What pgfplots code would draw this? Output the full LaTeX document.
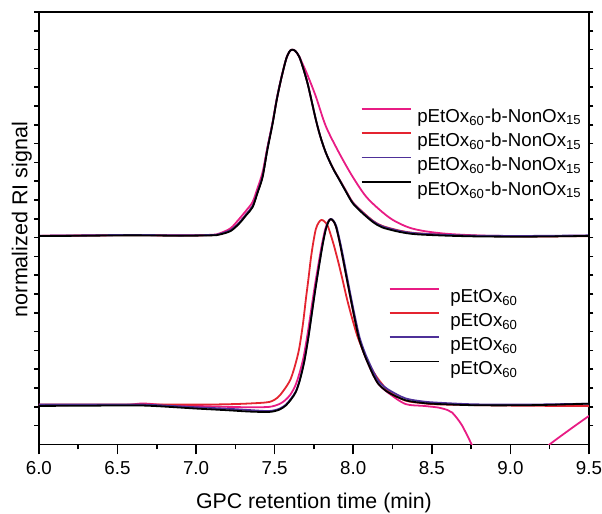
\documentclass[border=0pt]{standalone}
\usepackage{fontspec}
\setmainfont{Liberation Sans}
\usepackage{pgfplots}
\pgfplotsset{compat=1.18}

\definecolor{cpink}{RGB}{232,28,132}
\definecolor{cred}{RGB}{228,36,48}
\definecolor{cblue}{RGB}{78,48,152}

\pgfplotsset{
  gpcbase/.style={
    width=276pt, height=217pt, scale only axis,
    xmin=6, xmax=9.5, ymin=0, ymax=2.3,
    clip=true,
    axis line style={line width=0.9pt},
    tick align=outside,
    every tick/.append style={black, line width=0.8pt},
  },
  gpclegend/.style={
    legend cell align=left,
    legend style={draw=none, fill=none, inner sep=0pt, outer sep=0pt,
      font=\fontsize{9.4}{11}\selectfont, row sep=3.6pt,
      nodes={inner ysep=0pt}},
    legend image code/.code={\draw[##1, line width=0.9pt] (0pt,4pt) -- (25pt,4pt);},
  },
  curve/.style={line width=0.9pt, smooth, #1},
}

\begin{document}
\begin{tikzpicture}
% upper set (block copolymers), x ticks and labels
\begin{axis}[
    gpcbase, gpclegend,
    xtick pos=left,
    xtick={6,6.5,...,9.5},
    minor xtick={6.25,6.75,...,9.25},
    ytick=\empty,
    major tick length=5pt, minor tick length=2.5pt,
    /pgf/number format/assume math mode=true,
    xticklabel style={font=\fontsize{9.4}{11}\selectfont, inner xsep=0pt,
      /pgf/number format/fixed, /pgf/number format/fixed zerofill,
      /pgf/number format/precision=1},
    xlabel={GPC retention time (min)},
    ylabel={normalized RI signal},
    xlabel style={font=\fontsize{10.7}{12}\selectfont, inner sep=0pt,
      at={(axis description cs:0.5,-0.136)}, anchor=center},
    ylabel style={font=\fontsize{10.8}{12}\selectfont, inner sep=0pt,
      at={(axis description cs:-0.0308,0.52)}, anchor=center},
    legend style={at={(axis description cs:0.585,0.778)}, anchor=north west,
      nodes={inner xsep=2.5pt}},
]
\addplot[curve=cpink] coordinates {
(6.0,1.110)(6.3,1.112)(6.6,1.114)(6.9,1.112)(7.1,1.115)(7.148,1.122)(7.22,1.15)
(7.275,1.20)(7.32,1.245)(7.36,1.29)(7.39,1.36)(7.423,1.447)(7.453,1.575)
(7.487,1.712)(7.513,1.834)(7.540,1.940)(7.572,2.046)(7.593,2.088)(7.610,2.099)
(7.631,2.093)(7.656,2.063)(7.68,2.02)(7.709,1.965)(7.762,1.851)(7.826,1.692)
(7.910,1.551)(7.994,1.427)(8.079,1.321)(8.164,1.251)(8.25,1.195)(8.35,1.155)
(8.45,1.135)(8.6,1.12)(8.817,1.111)(9.1,1.108)(9.5,1.110)};
\addlegendentry{pEtOx\textsubscript{60}-b-NonOx\textsubscript{15}}
\addplot[curve=cred] coordinates {
(6.0,1.109)(6.3,1.111)(6.6,1.113)(6.9,1.111)(7.1,1.113)(7.148,1.118)(7.22,1.14)
(7.275,1.18)(7.32,1.225)(7.36,1.268)(7.39,1.34)(7.423,1.427)(7.453,1.569)
(7.487,1.710)(7.513,1.834)(7.540,1.940)(7.572,2.046)(7.593,2.088)(7.610,2.099)
(7.631,2.093)(7.656,2.063)(7.681,2.003)(7.709,1.922)(7.735,1.828)(7.762,1.728)
(7.79,1.64)(7.826,1.551)(7.87,1.472)(7.910,1.413)(7.95,1.355)(7.994,1.292)
(8.04,1.252)(8.079,1.222)(8.13,1.187)(8.185,1.162)(8.291,1.138)(8.397,1.124)
(8.608,1.114)(8.817,1.109)(9.116,1.106)(9.5,1.108)};
\addlegendentry{pEtOx\textsubscript{60}-b-NonOx\textsubscript{15}}
\addplot[curve=cblue] coordinates {
(6.0,1.110)(6.3,1.112)(6.6,1.114)(6.9,1.112)(7.1,1.114)(7.148,1.119)(7.22,1.14)
(7.275,1.18)(7.32,1.225)(7.36,1.268)(7.39,1.34)(7.423,1.427)(7.453,1.569)
(7.487,1.710)(7.513,1.834)(7.540,1.940)(7.572,2.046)(7.593,2.088)(7.610,2.099)
(7.631,2.093)(7.656,2.063)(7.681,2.003)(7.709,1.922)(7.735,1.828)(7.762,1.728)
(7.79,1.64)(7.826,1.551)(7.87,1.470)(7.910,1.411)(7.95,1.352)(7.994,1.289)
(8.04,1.249)(8.079,1.219)(8.13,1.185)(8.185,1.160)(8.291,1.136)(8.397,1.123)
(8.608,1.114)(8.817,1.110)(9.116,1.109)(9.5,1.112)};
\addlegendentry{pEtOx\textsubscript{60}-b-NonOx\textsubscript{15}}
\addplot[curve=black] coordinates {
(6.0,1.108)(6.3,1.110)(6.6,1.112)(6.9,1.110)(7.1,1.112)(7.148,1.116)(7.22,1.135)
(7.275,1.175)(7.32,1.22)(7.36,1.262)(7.39,1.335)(7.423,1.42)(7.453,1.562)
(7.487,1.705)(7.513,1.830)(7.540,1.938)(7.572,2.046)(7.593,2.088)(7.610,2.099)
(7.631,2.093)(7.656,2.063)(7.681,2.003)(7.709,1.922)(7.735,1.828)(7.762,1.728)
(7.79,1.64)(7.826,1.551)(7.87,1.470)(7.910,1.410)(7.95,1.35)(7.994,1.286)
(8.04,1.245)(8.079,1.215)(8.13,1.18)(8.185,1.154)(8.291,1.131)(8.397,1.118)
(8.608,1.110)(8.817,1.106)(9.116,1.105)(9.5,1.109)};
\addlegendentry{pEtOx\textsubscript{60}-b-NonOx\textsubscript{15}}
\end{axis}

% lower set (homopolymers), short y ticks on both sides
\begin{axis}[
    gpcbase, gpclegend,
    xtick=\empty,
    ytick pos=both,
    ytick={0.1,0.2,...,2.25},
    yticklabels={},
    major tick length=2.2pt,
    legend style={at={(axis description cs:0.636,0.361)}, anchor=north west,
      nodes={inner xsep=5pt}},
]
\addplot[curve=cpink] coordinates {
(6.0,0.208)(6.3,0.210)(6.55,0.210)(6.66,0.218)(6.8,0.210)(7.0,0.205)(7.2,0.200)
(7.34,0.198)(7.466,0.200)(7.53,0.215)(7.567,0.235)(7.6,0.265)(7.63,0.31)
(7.655,0.37)(7.683,0.46)(7.71,0.59)(7.736,0.735)(7.757,0.85)(7.778,0.955)
(7.8,1.06)(7.822,1.145)(7.84,1.185)(7.855,1.198)(7.871,1.19)(7.889,1.162)
(7.91,1.09)(7.931,1.003)(7.957,0.89)(7.984,0.774)(8.01,0.665)(8.037,0.562)
(8.07,0.48)(8.100,0.420)(8.13,0.365)(8.164,0.318)(8.227,0.272)(8.333,0.215)
(8.45,0.205)(8.544,0.196)(8.6,0.183)(8.629,0.170)(8.66,0.14)(8.692,0.102)
(8.735,0.032)(8.76,-0.011)(8.8,-0.08)(8.85,-0.15)(8.9,-0.19)(8.95,-0.21)
(9.0,-0.21)(9.05,-0.19)(9.1,-0.14)(9.15,-0.085)(9.232,-0.012)(9.369,0.074)
(9.5,0.152)};
\addlegendentry{pEtOx\textsubscript{60}}
\addplot[curve=cred] coordinates {
(6.0,0.212)(6.5,0.213)(7.0,0.212)(7.2,0.214)(7.34,0.218)(7.466,0.226)
(7.52,0.25)(7.550,0.279)(7.58,0.315)(7.603,0.350)(7.63,0.42)(7.656,0.509)
(7.68,0.64)(7.699,0.774)(7.715,0.88)(7.730,0.986)(7.745,1.07)(7.762,1.145)
(7.78,1.18)(7.798,1.194)(7.815,1.187)(7.836,1.166)(7.855,1.12)(7.878,1.056)
(7.905,0.97)(7.931,0.880)(7.96,0.775)(7.994,0.668)(8.025,0.58)(8.058,0.509)
(8.1,0.43)(8.143,0.367)(8.185,0.32)(8.227,0.281)(8.333,0.233)(8.45,0.219)
(8.544,0.213)(8.968,0.207)(9.5,0.204)};
\addlegendentry{pEtOx\textsubscript{60}}
\addplot[curve=cblue] coordinates {
(6.0,0.212)(6.3,0.212)(6.66,0.212)(7.0,0.198)(7.2,0.190)(7.34,0.183)
(7.466,0.178)(7.53,0.190)(7.572,0.212)(7.605,0.245)(7.635,0.283)(7.66,0.345)
(7.688,0.442)(7.715,0.575)(7.741,0.725)(7.762,0.845)(7.783,0.955)(7.805,1.064)
(7.826,1.148)(7.843,1.187)(7.857,1.199)(7.874,1.19)(7.892,1.162)(7.913,1.09)
(7.935,1.003)(7.961,0.89)(7.988,0.774)(8.014,0.668)(8.041,0.568)(8.074,0.488)
(8.104,0.43)(8.134,0.377)(8.168,0.33)(8.227,0.29)(8.333,0.245)(8.45,0.228)
(8.544,0.222)(8.75,0.214)(8.968,0.212)(9.2,0.213)(9.5,0.217)};
\addlegendentry{pEtOx\textsubscript{60}}
\addplot[curve=black] coordinates {
(6.0,0.205)(6.3,0.206)(6.66,0.207)(7.0,0.191)(7.2,0.182)(7.34,0.175)
(7.466,0.173)(7.53,0.185)(7.572,0.208)(7.605,0.24)(7.635,0.279)(7.66,0.34)
(7.688,0.438)(7.715,0.57)(7.741,0.721)(7.762,0.84)(7.783,0.950)(7.805,1.06)
(7.826,1.145)(7.843,1.185)(7.857,1.198)(7.872,1.19)(7.889,1.162)(7.91,1.09)
(7.931,1.003)(7.957,0.89)(7.984,0.774)(8.01,0.665)(8.037,0.562)(8.07,0.48)
(8.100,0.420)(8.13,0.365)(8.164,0.318)(8.227,0.275)(8.333,0.235)(8.45,0.220)
(8.544,0.215)(8.75,0.209)(8.968,0.208)(9.2,0.210)(9.5,0.217)};
\addlegendentry{pEtOx\textsubscript{60}}
\end{axis}
% white margins left of the label and above the frame, as in the reference
\path ([xshift=-19.5pt]current axis.south west) -- ([yshift=6pt]current axis.north east);
\end{tikzpicture}
\end{document}
